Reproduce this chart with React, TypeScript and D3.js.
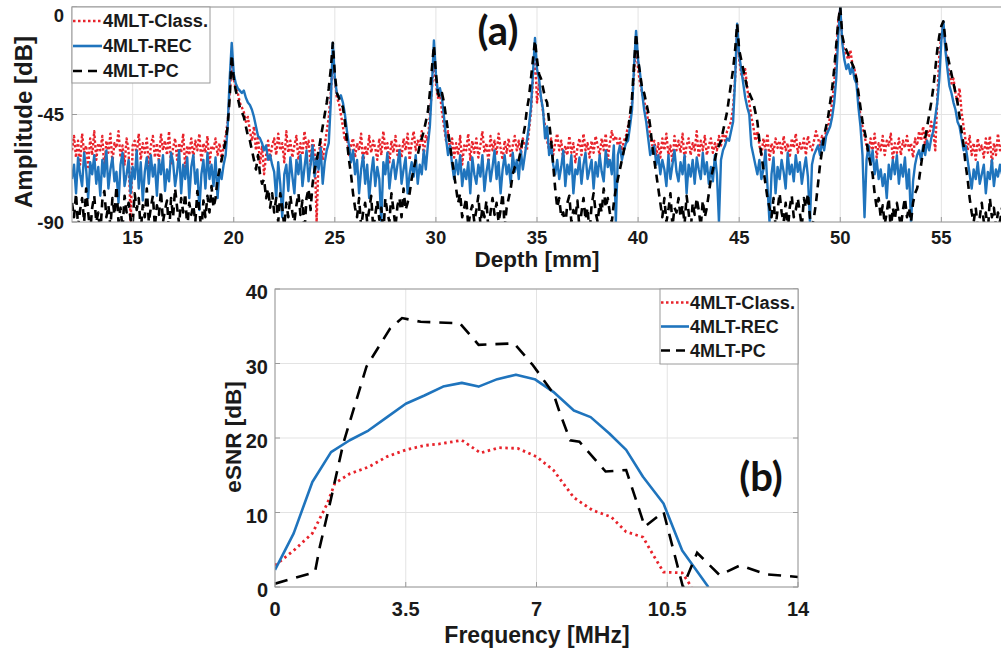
import React from "react";
import * as d3 from "d3";

// ---------- Panel (a): amplitude vs depth ----------
const DEPTH_START = 12;
const DEPTH_STEP = 0.1;
const DEPTH_TICKS = [15, 20, 25, 30, 35, 40, 45, 50, 55];
const AMP_TICKS = [-90, -45, 0];

const CLASS_DB = [
  -60,-54,-63,-56,-66,-53,-61,-58,-67,-55,
  -62,-52,-64,-57,-60,-54,-68,-56,-61,-53,
  -65,-57,-59,-52,-63,-58,-66,-55,-60,-90,
  -58,-56,-62,-53,-64,-57,-61,-55,-67,-58,
  -54,-63,-57,-65,-53,-60,-56,-62,-52,-66,
  -59,-55,-64,-57,-61,-53,-67,-58,-62,-55,
  -63,-56,-60,-53,-65,-57,-61,-54,-66,-58,
  -60,-55,-62,-57,-64,-58,-54,-48,-36,-24,
  -30,-34,-36,-40,-42,-44,-48,-46,-52,-56,
  -50,-60,-54,-66,-58,-70,-62,-56,-64,-58,
  -55,-62,-53,-60,-57,-65,-52,-61,-56,-63,
  -58,-54,-64,-57,-62,-52,-59,-56,-66,-55,
  -60,-90,-62,-56,-64,-58,-52,-46,-36,-22,
  -30,-38,-40,-45,-50,-56,-54,-62,-58,-55,
  -63,-57,-60,-53,-66,-58,-62,-54,-61,-56,
  -59,-64,-55,-62,-52,-60,-57,-65,-56,-61,
  -54,-62,-58,-63,-55,-60,-53,-64,-57,-52,
  -60,-56,-58,-52,-62,-54,-56,-46,-34,-22,
  -32,-38,-36,-44,-50,-56,-52,-60,-55,-63,
  -57,-62,-54,-66,-58,-60,-53,-64,-56,-61,
  -55,-63,-58,-52,-61,-57,-65,-54,-60,-56,
  -62,-53,-59,-64,-56,-61,-55,-63,-58,-54,
  -60,-56,-62,-55,-58,-60,-52,-44,-30,-18,
  -40,-32,-38,-44,-50,-56,-60,-55,-62,-57,
  -53,-60,-56,-64,-58,-62,-54,-61,-57,-65,
  -59,-55,-62,-53,-60,-57,-63,-56,-61,-54,
  -58,-62,-55,-60,-53,-64,-57,-52,-56,-54,
  -58,-55,-60,-56,-54,-50,-46,-40,-28,-14,
  -26,-32,-36,-40,-42,-48,-54,-58,-56,-62,
  -57,-63,-55,-60,-53,-62,-58,-65,-54,-60,
  -56,-61,-53,-64,-58,-55,-62,-57,-60,-52,
  -63,-56,-60,-54,-62,-58,-55,-61,-57,-60,
  -54,-58,-53,-56,-52,-50,-48,-42,-30,-10,
  -22,-28,-30,-26,-34,-40,-46,-50,-56,-52,
  -58,-62,-55,-60,-53,-64,-57,-61,-55,-59,
  -56,-62,-54,-60,-57,-63,-55,-59,-53,-61,
  -57,-60,-55,-62,-54,-58,-60,-56,-52,-55,
  -58,-54,-56,-52,-50,-46,-40,-32,-20,-6,
  -1,-14,-18,-20,-22,-18,-24,-26,-30,-38,
  -46,-50,-54,-58,-62,-55,-60,-53,-63,-57,
  -60,-54,-62,-56,-58,-53,-64,-57,-61,-55,
  -62,-56,-59,-54,-60,-57,-63,-55,-58,-52,
  -56,-50,-58,-52,-54,-48,-52,-60,-38,-20,
  -12,-8,-16,-24,-28,-32,-30,-36,-40,-34,
  -44,-50,-56,-60,-54,-62,-57,-64,-55,-60,
  -58,-63,-55,-61,-54,-66,-57,-62,-53,-60,
  -58,
];

const REC_DB = [
  -72,-66,-78,-63,-70,-75,-61,-68,-80,-65,
  -70,-62,-74,-67,-79,-64,-71,-60,-76,-68,
  -63,-73,-69,-82,-66,-61,-75,-70,-64,-78,
  -67,-72,-60,-76,-65,-81,-69,-63,-74,-62,
  -71,-66,-79,-64,-70,-62,-77,-68,-73,-61,
  -65,-75,-69,-60,-78,-66,-72,-63,-80,-67,
  -62,-74,-68,-85,-70,-64,-76,-61,-72,-66,
  -75,-63,-80,-68,-72,-66,-62,-50,-30,-15,
  -28,-32,-34,-35,-36,-35,-38,-40,-41,-43,
  -46,-50,-54,-55,-57,-60,-58,-64,-62,-66,
  -69,-80,-65,-74,-88,-70,-66,-77,-63,-71,
  -78,-64,-70,-62,-75,-67,-60,-73,-66,-58,
  -71,-63,-68,-59,-74,-65,-60,-57,-40,-15,
  -30,-36,-38,-37,-40,-45,-52,-58,-65,-60,
  -70,-64,-78,-68,-62,-74,-66,-80,-70,-63,
  -75,-67,-72,-90,-65,-70,-61,-76,-68,-64,
  -72,-66,-60,-74,-68,-63,-78,-70,-65,-71,
  -62,-74,-66,-70,-60,-68,-58,-50,-34,-14,
  -28,-36,-34,-38,-46,-55,-62,-58,-66,-72,
  -64,-70,-62,-75,-68,-72,-65,-78,-63,-70,
  -74,-66,-71,-62,-77,-69,-64,-73,-67,-60,
  -72,-65,-78,-68,-62,-70,-66,-74,-61,-69,
  -64,-72,-60,-68,-62,-56,-50,-42,-28,-13,
  -26,-30,-38,-43,-55,-50,-62,-58,-66,-70,
  -64,-72,-67,-60,-75,-66,-70,-62,-78,-68,
  -70,-63,-74,-66,-61,-72,-68,-64,-76,-65,
  -71,-62,-69,-73,-60,-67,-64,-70,-58,-90,
  -62,-58,-64,-60,-57,-56,-50,-43,-25,-10,
  -22,-28,-36,-43,-48,-55,-62,-60,-58,-66,
  -62,-70,-64,-68,-75,-62,-72,-66,-60,-69,
  -73,-65,-70,-62,-78,-66,-71,-64,-74,-63,
  -68,-72,-61,-70,-65,-74,-67,-73,-62,-70,
  -90,-64,-60,-58,-55,-56,-52,-48,-30,-7,
  -20,-26,-32,-38,-42,-45,-58,-62,-66,-70,
  -64,-72,-68,-60,-75,-90,-70,-63,-78,-67,
  -72,-64,-69,-76,-61,-70,-66,-73,-62,-69,
  -65,-74,-68,-63,-71,-90,-66,-62,-60,-58,
  -62,-56,-60,-54,-52,-50,-46,-40,-30,-12,
  0,-15,-22,-26,-24,-28,-25,-30,-32,-42,
  -50,-62,-88,-64,-58,-66,-60,-70,-64,-72,
  -68,-75,-70,-80,-66,-72,-64,-70,-62,-74,
  -66,-71,-63,-76,-68,-90,-73,-66,-62,-60,
  -64,-58,-62,-56,-60,-55,-52,-46,-40,-30,
  -14,-6,-18,-26,-33,-36,-40,-43,-48,-50,
  -55,-60,-58,-64,-70,-76,-68,-72,-65,-74,
  -70,-66,-78,-69,-72,-64,-75,-68,-71,-66,
  -70,
];

const PC_DB = [
  -82,-88,-78,-92,-85,-80,-90,-76,-86,-94,
  -84,-79,-90,-86,-95,-81,-77,-88,-83,-92,
  -80,-87,-75,-90,-84,-93,-79,-86,-82,-89,
  -91,-78,-85,-80,-94,-83,-88,-76,-90,-84,
  -79,-92,-83,-87,-77,-90,-85,-81,-95,-80,
  -88,-76,-84,-91,-80,-86,-78,-93,-82,-87,
  -83,-90,-77,-85,-94,-81,-88,-79,-86,-75,
  -84,-80,-72,-68,-64,-60,-56,-50,-38,-20,
  -30,-35,-38,-42,-44,-46,-50,-54,-56,-60,
  -64,-68,-62,-70,-74,-72,-80,-76,-84,-78,
  -86,-80,-90,-78,-84,-92,-82,-88,-79,-86,
  -90,-83,-78,-87,-81,-94,-80,-76,-85,-74,
  -68,-64,-60,-55,-50,-45,-40,-34,-26,-15,
  -28,-36,-38,-40,-42,-48,-56,-64,-70,-78,
  -84,-88,-80,-92,-86,-82,-90,-85,-79,-93,
  -87,-81,-89,-84,-95,-80,-86,-90,-78,-85,
  -92,-83,-80,-88,-76,-85,-82,-78,-72,-68,
  -64,-62,-58,-55,-52,-48,-44,-36,-26,-16,
  -28,-36,-38,-36,-40,-46,-52,-58,-64,-70,
  -76,-82,-78,-88,-84,-80,-92,-86,-83,-90,
  -85,-79,-91,-84,-88,-81,-94,-86,-80,-87,
  -82,-90,-85,-78,-92,-84,-80,-76,-70,-67,
  -66,-64,-60,-55,-50,-43,-38,-30,-22,-14,
  -22,-28,-30,-34,-38,-40,-48,-56,-66,-76,
  -84,-80,-88,-86,-92,-82,-79,-90,-85,-88,
  -81,-93,-86,-80,-89,-84,-95,-83,-78,-86,
  -90,-82,-86,-76,-84,-80,-86,-90,-82,-76,
  -72,-68,-64,-60,-56,-52,-45,-38,-24,-11,
  -22,-28,-34,-36,-40,-44,-50,-58,-64,-70,
  -76,-82,-88,-80,-90,-85,-78,-92,-84,-86,
  -80,-88,-83,-91,-79,-86,-94,-82,-87,-80,
  -85,-92,-81,-88,-84,-78,-72,-68,-64,-60,
  -58,-56,-52,-48,-44,-38,-32,-26,-18,-7,
  -18,-22,-26,-30,-34,-36,-38,-40,-44,-48,
  -56,-62,-68,-74,-80,-84,-88,-80,-92,-85,
  -78,-86,-90,-82,-94,-84,-79,-88,-85,-80,
  -86,-92,-80,-84,-78,-88,-92,-88,-82,-74,
  -66,-60,-54,-50,-46,-40,-34,-26,-16,-6,
  0,-12,-16,-18,-20,-22,-24,-26,-30,-36,
  -42,-48,-52,-56,-62,-66,-70,-78,-84,-80,
  -88,-83,-91,-86,-80,-94,-84,-89,-82,-87,
  -92,-85,-80,-88,-84,-90,-82,-78,-76,-72,
  -66,-60,-55,-50,-45,-40,-34,-26,-18,-12,
  -8,-6,-14,-20,-24,-28,-32,-36,-40,-46,
  -52,-58,-66,-72,-80,-86,-90,-84,-92,-88,
  -82,-90,-86,-94,-80,-88,-84,-92,-86,-90,
  -84,
];

// ---------- Panel (b): eSNR vs frequency ----------
const FREQ_TICKS = [0, 3.5, 7, 10.5, 14];
const SNR_TICKS = [0, 10, 20, 30, 40];

const FREQ_CLASS = [0, 0.5, 1.0, 1.4, 1.6, 2.0, 2.5, 3.0, 3.5, 4.0, 4.4, 5.0, 5.5, 6.0, 6.5, 7.0, 7.45, 8.0, 8.5, 9.0, 9.4, 9.85, 10.1, 10.4, 10.9, 11.15];
const SNR_CLASS = [2.9, 4.9, 7.2, 11.2, 13.9, 15.2, 16.1, 17.5, 18.4, 19.0, 19.2, 19.7, 18.0, 18.7, 18.6, 17.5, 15.7, 12.0, 10.3, 9.4, 7.4, 6.7, 4.5, 2.0, 1.9, 0];

const FREQ_REC = [0, 0.5, 1.0, 1.5, 2.0, 2.5, 3.0, 3.5, 4.0, 4.5, 5.0, 5.45, 5.95, 6.45, 6.95, 7.45, 8.0, 8.45, 8.95, 9.4, 9.85, 10.4, 10.9, 11.6];
const SNR_REC = [2.3, 7.2, 14.1, 18.1, 19.7, 21.0, 22.8, 24.6, 25.7, 26.9, 27.4, 26.9, 27.9, 28.5, 27.9, 26.2, 23.7, 22.8, 20.6, 18.4, 14.8, 11.2, 4.9, 0];

const FREQ_PC = [0, 1.07, 1.2, 1.47, 1.83, 2.45, 3.08, 3.4, 3.9, 4.95, 5.45, 6.4, 6.9, 7.45, 7.63, 7.9, 8.15, 8.85, 9.4, 9.9, 10.4, 10.92, 11.3, 11.9, 12.45, 13.15, 14];
const SNR_PC = [0.45, 2.0, 5.4, 11.2, 19.3, 29.6, 34.7, 36.1, 35.6, 35.4, 32.5, 32.7, 29.8, 26.0, 23.3, 19.7, 19.5, 15.5, 15.7, 8.1, 10.1, 0, 4.6, 1.6, 2.9, 1.7, 1.35];

const LEGEND = ["4MLT-Class.", "4MLT-REC", "4MLT-PC"];

const RED = "#e8232b";
const BLUE = "#1f74bd";
const BLACK = "#000000";
const FONT = "'Liberation Sans', Arial, sans-serif";
const GRID = "#e3e3e3";
const FRAME = "#9a9a9a";
const TEXT = "#1a1a1a";

const STYLES = [
  { color: RED, dash: "2.5,2.5", width: 2.6 },
  { color: BLUE, dash: "", width: 2.6 },
  { color: BLACK, dash: "9,6", width: 2.6 },
];

function Legend({ x, y, w, h, rows, lineLen }: any) {
  return (
    <g>
      <rect x={x} y={y} width={w} height={h} fill="#fff" stroke={FRAME} strokeWidth={1} />
      {LEGEND.map((t, i) => {
        const cy = rows[i];
        const st = STYLES[i];
        const extra = i === 0 ? { textLength: 105, lengthAdjust: "spacingAndGlyphs" } : {};
        return (
          <g key={t}>
            <line x1={x + 1} x2={x + 1 + lineLen} y1={cy} y2={cy} stroke={st.color}
              strokeWidth={st.width} strokeDasharray={st.dash} />
            <text x={x + lineLen + 2} y={cy} dy="0.36em" fontFamily={FONT} fontWeight="bold"
              fontSize={18} fill={TEXT} {...extra}>{t}</text>
          </g>
        );
      })}
    </g>
  );
}

export default function App() {
  const W = 1001, H = 655;

  // panel (a)
  const ax = d3.scaleLinear().domain([12, 58]).range([72, 1002]);
  const ay = d3.scaleLinear().domain([-90, 0]).range([222, 7]);
  const depthOf = (i: number) => DEPTH_START + i * DEPTH_STEP;
  const lineA = d3.line<number>().x((_, i) => ax(depthOf(i))).y((d) => ay(d));

  // panel (b)
  const bx = d3.scaleLinear().domain([0, 14]).range([275, 798]);
  const by = d3.scaleLinear().domain([0, 40]).range([587, 289]);
  const lineB = (fx: number[], vy: number[]) =>
    d3.line<number>().x((_, i) => bx(fx[i])).y((d) => by(d))(vy) || "";

  const [ax0, ax1] = ax.range();
  const [ay1, ay0] = ay.range();
  const [bx0, bx1] = bx.range();
  const [by1, by0] = by.range();

  const tickA = { fontFamily: FONT, fontWeight: "bold" as const, fontSize: 18.5, fill: TEXT };
  const tickB = { fontFamily: FONT, fontWeight: "bold" as const, fontSize: 20, fill: TEXT };

  return (
    <svg width={W} height={H} style={{ position: "absolute", left: 0, top: 0, background: "#fff" }}>
      <defs>
        <clipPath id="clipA"><rect x={ax0} y={ay0} width={ax1 - ax0} height={ay1 - ay0} /></clipPath>
        <clipPath id="clipB"><rect x={bx0} y={by0} width={bx1 - bx0} height={by1 - by0} /></clipPath>
      </defs>
      <rect x={0} y={0} width={W} height={H} fill="#fff" />

      {/* ===== Panel (a) ===== */}
      <g>
        {DEPTH_TICKS.map((t) => (
          <line key={"ga" + t} x1={ax(t)} x2={ax(t)} y1={ay0} y2={ay1} stroke={GRID} strokeWidth={1} />
        ))}
        {AMP_TICKS.map((t) => (
          <line key={"gya" + t} x1={ax0} x2={ax1} y1={ay(t)} y2={ay(t)} stroke={GRID} strokeWidth={1} />
        ))}
        <g clipPath="url(#clipA)">
          <path d={lineA(CLASS_DB) || ""} fill="none" stroke={RED} strokeWidth={2.4} strokeDasharray="2.5,2.2" strokeLinejoin="round" />
          <path d={lineA(REC_DB) || ""} fill="none" stroke={BLUE} strokeWidth={2.4} strokeLinejoin="round" />
          <path d={lineA(PC_DB) || ""} fill="none" stroke={BLACK} strokeWidth={2.6} strokeDasharray="8,6" strokeLinejoin="round" />
        </g>
        <rect x={ax0} y={ay0} width={ax1 - ax0} height={ay1 - ay0} fill="none" stroke={FRAME} strokeWidth={1} />
        {DEPTH_TICKS.map((t) => (
          <g key={"ta" + t}>
            <line x1={ax(t)} x2={ax(t)} y1={ay1} y2={ay1 - 5} stroke={FRAME} />
            <text x={ax(t)} y={ay1 + 22} textAnchor="middle" {...tickA}>{t}</text>
          </g>
        ))}
        {AMP_TICKS.map((t) => (
          <g key={"tya" + t}>
            <line x1={ax0} x2={ax0 + 5} y1={ay(t)} y2={ay(t)} stroke={FRAME} />
            <text x={64} y={Math.max(ay(t), 15)} dy="0.36em" textAnchor="end" {...tickA}>{t}</text>
          </g>
        ))}
        <text x={537} y={267} textAnchor="middle" fontFamily={FONT} fontWeight="bold" fontSize={22.5} fill={TEXT}>Depth [mm]</text>
        <text transform="translate(23,122) rotate(-90)" dy="0.36em" textAnchor="middle" fontFamily={FONT} fontWeight="bold" fontSize={24} fill={TEXT}>Amplitude [dB]</text>
        <text x={498} y={31} dy="0.36em" textAnchor="middle" fontFamily="Lato, 'Open Sans', sans-serif" fontWeight="bold" fontSize={40} fill="#111">(a)</text>
        <Legend x={72} y={7} w={138} h={76} rows={[21, 46, 71]} lineLen={29} />
      </g>

      {/* ===== Panel (b) ===== */}
      <g>
        {FREQ_TICKS.map((t) => (
          <line key={"gb" + t} x1={bx(t)} x2={bx(t)} y1={by0} y2={by1} stroke={GRID} strokeWidth={1} />
        ))}
        {SNR_TICKS.map((t) => (
          <line key={"gyb" + t} x1={bx0} x2={bx1} y1={by(t)} y2={by(t)} stroke={GRID} strokeWidth={1} />
        ))}
        <g clipPath="url(#clipB)">
          <path d={lineB(FREQ_CLASS, SNR_CLASS)} fill="none" stroke={RED} strokeWidth={2.8} strokeDasharray="2.5,3.5" />
          <path d={lineB(FREQ_REC, SNR_REC)} fill="none" stroke={BLUE} strokeWidth={2.6} strokeLinejoin="round" />
          <path d={lineB(FREQ_PC, SNR_PC)} fill="none" stroke={BLACK} strokeWidth={2.6} strokeDasharray="13,9" />
        </g>
        <rect x={bx0} y={by0} width={bx1 - bx0} height={by1 - by0} fill="none" stroke={FRAME} strokeWidth={1} />
        {FREQ_TICKS.map((t) => (
          <g key={"tb" + t}>
            <line x1={bx(t)} x2={bx(t)} y1={by1} y2={by1 - 5} stroke={FRAME} />
            <text x={bx(t)} y={by1 + 29} textAnchor="middle" {...tickB}>{t}</text>
          </g>
        ))}
        {SNR_TICKS.map((t) => (
          <g key={"tyb" + t}>
            <line x1={bx0} x2={bx0 + 5} y1={by(t)} y2={by(t)} stroke={FRAME} />
            <line x1={bx1} x2={bx1 - 5} y1={by(t)} y2={by(t)} stroke={FRAME} />
            <text x={268} y={by(t) + 3} dy="0.36em" textAnchor="end" {...tickB}>{t}</text>
          </g>
        ))}
        <text x={537} y={643} textAnchor="middle" fontFamily={FONT} fontWeight="bold" fontSize={23} fill={TEXT}>Frequency [MHz]</text>
        <text transform="translate(233,437) rotate(-90)" dy="0.36em" textAnchor="middle" fontFamily={FONT} fontWeight="bold" fontSize={22.5} fill={TEXT}>eSNR [dB]</text>
        <text x={761} y={477} dy="0.36em" textAnchor="middle" fontFamily="Lato, 'Open Sans', sans-serif" fontWeight="bold" fontSize={40} fill="#111">(b)</text>
        <Legend x={660} y={289} w={138} h={75} rows={[302.5, 326.5, 350.5]} lineLen={28} />
      </g>
    </svg>
  );
}
